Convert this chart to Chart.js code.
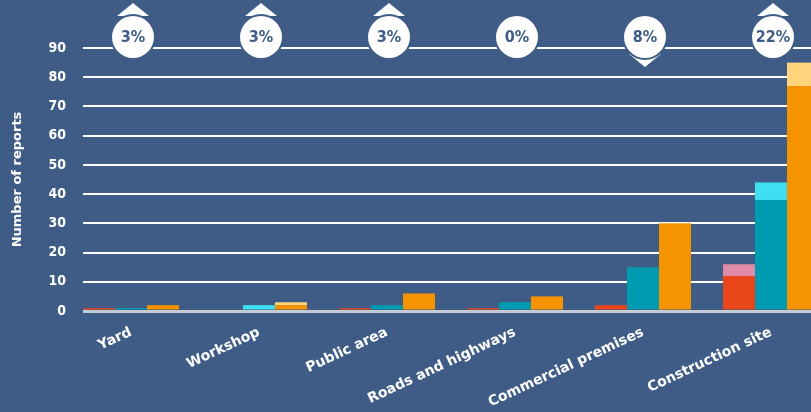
<!DOCTYPE html>
<html>
<head>
<meta charset="utf-8">
<script src="https://cdn.jsdelivr.net/npm/chart.js@4/dist/chart.umd.min.js"></script>
<style>
    html, body { margin: 0; padding: 0; background: #3e5c86; overflow: hidden; }
    #wrap { width: 811px; height: 412px; position: relative; }
</style>
</head>
<body>
<div id="wrap"><canvas id="reportsChart"></canvas></div>
<script>
const categories = ["Yard", "Workshop", "Public area", "Roads and highways", "Commercial premises", "Construction site"];
const redValues = [1, 0, 1, 1, 2, 12];
const pinkValues = [0, 0, 0, 0, 0, 4];
const tealValues = [1, 0, 2, 3, 15, 38];
const cyanValues = [0, 2, 0, 0, 0, 6];
const orangeValues = [2, 2, 6, 5, 30, 77];
const lightOrangeValues = [0, 1, 0, 0, 0, 8];
const shares = ["3%", "3%", "3%", "0%", "8%", "22%"];
const trends = ["up", "up", "up", "", "down", "up"];
const yTicks = [0, 10, 20, 30, 40, 50, 60, 70, 80, 90];

document.addEventListener("DOMContentLoaded", function () {
    const bg = "#3e5c86";
    const chartElement = document.getElementById("reportsChart");

    function points(values) {
        return values.map((v, i) => ({ x: i, y: v }));
    }

    // badges with the share and trend arrow above each group
    const badgePlugin = {
        id: "badges",
        afterDraw(chart) {
            const ctx = chart.ctx;
            const xScale = chart.scales.x;
            const cy = 37;
            ctx.save();
            categories.forEach((c, i) => {
                const cx = xScale.getPixelForValue(i) + 2;
                ctx.fillStyle = "#ffffff";
                if (trends[i] === "up") {
                    ctx.beginPath();
                    ctx.moveTo(cx, 3);
                    ctx.lineTo(cx + 16, 16);
                    ctx.lineTo(cx - 16, 16);
                    ctx.closePath();
                    ctx.fill();
                } else if (trends[i] === "down") {
                    ctx.beginPath();
                    ctx.moveTo(cx, 67);
                    ctx.lineTo(cx + 16, 54);
                    ctx.lineTo(cx - 16, 54);
                    ctx.closePath();
                    ctx.fill();
                }
                ctx.beginPath();
                ctx.arc(cx, cy, 23, 0, Math.PI * 2);
                ctx.fillStyle = bg;
                ctx.fill();
                ctx.beginPath();
                ctx.arc(cx, cy, 21, 0, Math.PI * 2);
                ctx.fillStyle = "#ffffff";
                ctx.fill();
                ctx.fillStyle = bg;
                ctx.font = "bold 16px 'DejaVu Sans Condensed', 'DejaVu Sans'";
                ctx.textAlign = "center";
                ctx.textBaseline = "middle";
                ctx.fillText(shares[i], cx, cy + 1);
            });
            ctx.restore();
        }
    };

    new Chart(chartElement, {
        type: "bar",
        data: {
            datasets: [
                { label: "red", data: points(redValues), backgroundColor: "#e8461a", stack: "a" },
                { label: "pink", data: points(pinkValues), backgroundColor: "#e08ca9", stack: "a" },
                { label: "teal", data: points(tealValues), backgroundColor: "#009bb1", stack: "b" },
                { label: "cyan", data: points(cyanValues), backgroundColor: "#3ddff0", stack: "b" },
                { label: "orange", data: points(orangeValues), backgroundColor: "#f59300", stack: "c" },
                { label: "light orange", data: points(lightOrangeValues), backgroundColor: "#ffd47c", stack: "c" }
            ]
        },
        options: {
            responsive: true,
            maintainAspectRatio: false,
            animation: false,
            layout: { padding: { top: 48, left: 0, right: 0, bottom: 0 } },
            datasets: { bar: { categoryPercentage: 0.75, barPercentage: 1, borderWidth: 0 } },
            plugins: {
                legend: { display: false },
                tooltip: { enabled: false }
            },
            scales: {
                x: {
                    type: "linear",
                    offset: false,
                    min: -0.375,
                    max: 5.3125,
                    grid: { display: false, offset: false },
                    border: { display: false },
                    afterFit: function (scale) { scale.height = 101; },
                    ticks: {
                        stepSize: 1,
                        includeBounds: false,
                        autoSkip: false,
                        minRotation: 25,
                        maxRotation: 25,
                        padding: 5,
                        color: "#ffffff",
                        font: { family: "'DejaVu Sans'", size: 14, weight: "bold" },
                        callback: function (value) { return categories[value] || ""; }
                    }
                },
                y: {
                    stacked: true,
                    min: 0,
                    max: 90,
                    afterFit: function (scale) { scale.width = 83; },
                    afterBuildTicks: function (scale) { scale.ticks = yTicks.map(v => ({ value: v })); },
                    border: { display: false },
                    grid: {
                        drawTicks: false,
                        color: ctx => ctx.tick.value === 0 ? "#c5cbd3" : "#ffffff",
                        lineWidth: ctx => ctx.tick.value === 0 ? 3 : 2
                    },
                    ticks: {
                        padding: 17,
                        color: "#ffffff",
                        font: { family: "'DejaVu Sans Condensed', 'DejaVu Sans'", size: 14, weight: "bold" }
                    },
                    title: {
                        display: true,
                        text: "Number of reports",
                        color: "#ffffff",
                        padding: { top: 10, bottom: 0 },
                        font: { family: "'DejaVu Sans'", size: 13, weight: "bold" }
                    }
                }
            }
        },
        plugins: [badgePlugin]
    });
});
</script>
</body>
</html>
